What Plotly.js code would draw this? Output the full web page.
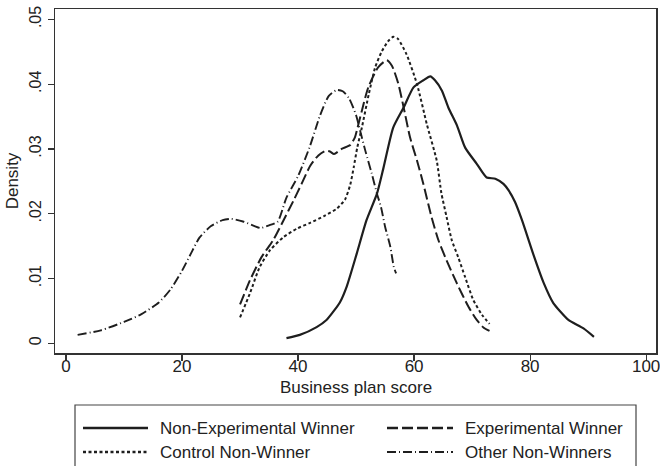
<!DOCTYPE html>
<html>
<head>
<meta charset="utf-8">
<script src="https://cdn.plot.ly/plotly-3.0.1.min.js"></script>
<style>html,body{margin:0;padding:0;background:#fff;}#chart{width:660px;height:466px;}</style>
</head>
<body>
<div id="chart"></div>
<script>
// Non-Experimental Winner (solid)
const nonExpX = [38, 40.3, 43.2, 44.9, 46, 47.2, 48.4, 50.1, 51.8, 53.6, 54.7, 56.4, 58.2, 59.9, 61.6, 62.8, 63.6, 64.8, 65.9, 67.4, 68.8, 70.8, 72.5, 74, 75.4, 76.3, 77.4, 78.6, 80.6, 82.3, 84, 85.2, 86.6, 89.2, 91];
const nonExpY = [0.0008, 0.0013, 0.0025, 0.0036, 0.0048, 0.0063, 0.0088, 0.0138, 0.0190, 0.0231, 0.0270, 0.0333, 0.0364, 0.0395, 0.0406, 0.0412, 0.0406, 0.0390, 0.0364, 0.0336, 0.0302, 0.0277, 0.0256, 0.0254, 0.0246, 0.0236, 0.0218, 0.0190, 0.0136, 0.0094, 0.0062, 0.0049, 0.0036, 0.0023, 0.0010];

// Experimental Winner (long dash)
const expX = [30, 31.7, 33.7, 35.7, 37.5, 39.2, 40.6, 42.1, 43.5, 44.7, 45.5, 46.2, 47.5, 49, 49.8, 50.4, 51, 52.1, 53.8, 55.3, 56.2, 57.3, 58.2, 59.3, 60.5, 61.6, 63.0, 64.2, 65.6, 67.4, 69.4, 70.8, 72, 73];
const expY = [0.0060, 0.0097, 0.0133, 0.0159, 0.0190, 0.0220, 0.0246, 0.0274, 0.0290, 0.0297, 0.0296, 0.0292, 0.0300, 0.0306, 0.0318, 0.0338, 0.0359, 0.0395, 0.0426, 0.0437, 0.0428, 0.0400, 0.0364, 0.0318, 0.0282, 0.0246, 0.0195, 0.0159, 0.0128, 0.0092, 0.0056, 0.0036, 0.0024, 0.0019];

// Control Non-Winner (dotted)
const ctrlX = [30, 31.7, 33.4, 35.2, 37.5, 39.8, 42.1, 44.4, 46.7, 48.1, 49, 49.6, 50.2, 51, 52.2, 53.3, 54.4, 55.5, 56.4, 57.2, 58.7, 60.5, 62.2, 63.9, 64.7, 65.6, 66.5, 67.6, 68.8, 70.2, 71.7, 73];
const ctrlY = [0.0040, 0.0077, 0.0118, 0.0144, 0.0164, 0.0177, 0.0186, 0.0196, 0.0208, 0.0222, 0.0245, 0.0272, 0.0302, 0.0333, 0.0385, 0.0426, 0.0450, 0.0466, 0.0473, 0.0470, 0.0446, 0.0400, 0.0338, 0.0282, 0.0232, 0.0195, 0.0159, 0.0133, 0.0102, 0.0067, 0.0044, 0.0030];

// Other Non-Winners (dash-dot)
const otherX = [2, 6, 10, 13, 16, 18, 20, 21.5, 23, 25, 27, 28.5, 30.5, 32.5, 33.5, 35, 36.5, 38, 40, 42, 43.8, 45.3, 46.7, 47.7, 48.8, 50, 50.7, 51.6, 52.7, 53.6, 54.3, 55, 55.9, 56.5, 56.9];
const otherY = [0.0013, 0.0020, 0.0033, 0.0045, 0.0063, 0.0083, 0.0112, 0.0138, 0.0163, 0.0181, 0.0190, 0.0192, 0.0188, 0.0181, 0.0178, 0.0182, 0.0188, 0.0225, 0.0258, 0.0303, 0.0352, 0.0382, 0.0391, 0.0389, 0.0378, 0.0352, 0.0328, 0.0297, 0.0262, 0.0231, 0.0210, 0.0180, 0.0149, 0.0118, 0.0108];

const seriesNames = ['Non-Experimental Winner', 'Experimental Winner', 'Control Non-Winner', 'Other Non-Winners'];
const xTickVals = [0, 20, 40, 60, 80, 100];
const yTickVals = [0, 0.01, 0.02, 0.03, 0.04, 0.05];
const yTickText = ['0', '.01', '.02', '.03', '.04', '.05'];
const xTitle = 'Business plan score';
const yTitle = 'Density';

const LC = '#1e1e1e';
const styles = [
  {dash: 'solid', width: 2.2},
  {dash: '11px,4px', width: 2},
  {dash: '3px,2.5px', width: 2},
  {dash: '9px,3px,1px,3px', width: 1.9}
];
const xs = [nonExpX, expX, ctrlX, otherX];
const ys = [nonExpY, expY, ctrlY, otherY];

const traces = xs.map((x, i) => ({
  x: x, y: ys[i], type: 'scatter', mode: 'lines', name: seriesNames[i],
  line: {color: LC, width: styles[i].width, dash: styles[i].dash, shape: 'spline', smoothing: 0.6},
  showlegend: false, hoverinfo: 'skip'
}));

// manual legend (positions in px converted to paper coords)
const L = 55, R = 4, T = 9, B = 113, W = 660, H = 466;
const pw = W - L - R, ph = H - T - B;
const px = v => (v - L) / pw;
const py = v => (H - B - v) / ph;

const shapes = [
  {type: 'rect', xref: 'paper', yref: 'paper', x0: px(75), x1: px(636), y0: py(405), y1: py(480),
   line: {color: '#444', width: 1.2}, fillcolor: 'rgba(0,0,0,0)'}
];
const legCols = [[83, 148, 158], [387, 453, 463]];
const legRows = [428, 452];
const annotations = [
  {xref: 'paper', yref: 'paper', x: px(355.5), y: py(387), text: xTitle, showarrow: false,
   xanchor: 'center', yanchor: 'middle', font: {size: 17, color: '#222'}}
];
seriesNames.forEach((n, i) => {
  const c = legCols[i % 2], r = legRows[Math.floor(i / 2)];
  shapes.push({type: 'line', xref: 'paper', yref: 'paper', x0: px(c[0]), x1: px(c[1]), y0: py(r), y1: py(r),
    line: {color: LC, width: styles[i].width + 0.3, dash: styles[i].dash}});
  annotations.push({xref: 'paper', yref: 'paper', x: px(c[2]), y: py(r), text: n, showarrow: false,
    xanchor: 'left', yanchor: 'middle', font: {size: 17, color: '#222'}});
});

const layout = {
  width: W, height: H,
  margin: {l: L, r: R, t: T, b: B, pad: 0},
  paper_bgcolor: '#fff', plot_bgcolor: '#fff',
  font: {family: 'Liberation Sans, Arial, sans-serif', size: 17, color: '#222'},
  showlegend: false,
  xaxis: {
    range: [-1.9, 101.7], tickvals: xTickVals, ticks: 'outside', ticklen: 6, tickwidth: 1.2, tickcolor: '#333',
    showline: true, mirror: true, linecolor: '#333', linewidth: 1.5, showgrid: false, zeroline: false,
    tickfont: {size: 17, color: '#222'}, ticklabeloverflow: 'allow', ticklabelstandoff: -9
  },
  yaxis: {
    range: [-0.0015, 0.0516], tickvals: yTickVals, ticktext: yTickText, tickangle: -90,
    ticks: 'outside', ticklen: 6, tickwidth: 1.2, tickcolor: '#333',
    showline: true, mirror: true, linecolor: '#333', linewidth: 1.5, showgrid: false, zeroline: false,
    tickfont: {size: 16, color: '#222'}, ticklabeloverflow: 'allow',
    title: {text: yTitle, font: {size: 17, color: '#222'}, standoff: 4}
  },
  shapes: shapes,
  annotations: annotations
};

Plotly.newPlot('chart', traces, layout, {displayModeBar: false, staticPlot: true});
</script>
</body>
</html>
